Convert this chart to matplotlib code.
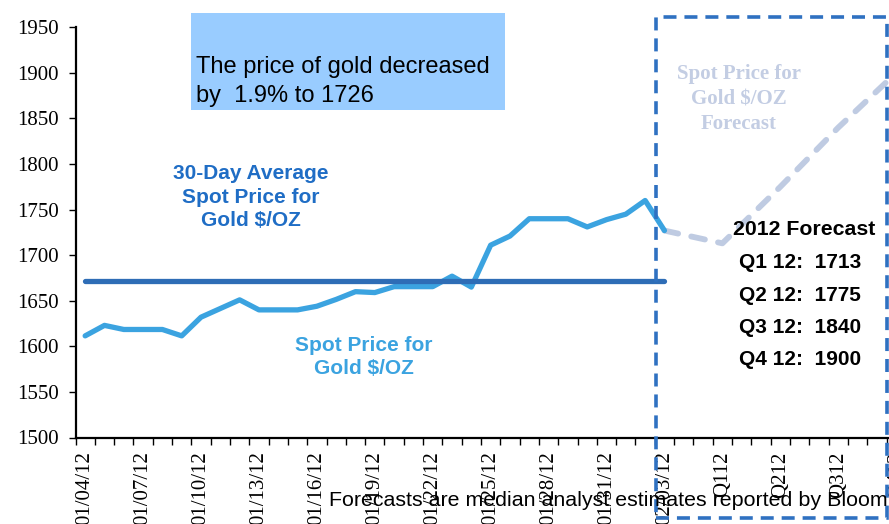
import matplotlib
matplotlib.use("Agg")
import matplotlib.pyplot as plt
from matplotlib.patches import Rectangle
import numpy as np

# canvas size in pixels
W, H = 889, 524

# daily spot price, 01/04/12 .. 02/03/12
date_labels = ['01/04/12', '01/07/12', '01/10/12', '01/13/12', '01/16/12', '01/19/12',
               '01/22/12', '01/25/12', '01/28/12', '01/31/12', '02/03/12']
spot_prices = [1611.5, 1623, 1618.5, 1618.5, 1618.5, 1611.5, 1632, 1641.5, 1651, 1640,
               1640, 1640, 1644, 1651.5, 1660, 1659, 1665.5, 1665.5, 1665.5, 1677,
               1665, 1711, 1721, 1740, 1740, 1740, 1731, 1739, 1745, 1760, 1727]
avg_30day = 1672

# quarterly forecasts
forecast_labels = ['Q1 12', 'Q2 12', 'Q3 12', 'Q4 12']
forecast_ticks = ['Q112', 'Q212', 'Q312', 'Q412']
forecast_values = [1713, 1775, 1840, 1900]

SANS = 'Liberation Sans'
SERIF = 'Liberation Serif'


def ftext(x, y, s, **kw):
    # place text using pixel coordinates measured from the top-left corner
    return fig.text(x / W, 1 - y / H, s, **kw)


fig = plt.figure(figsize=(W / 100, H / 100), dpi=100)

n_cat = 43
cat_w = 19.31
ax = fig.add_axes([75.5 / W, 86.5 / H, n_cat * cat_w / W, 410.2 / H])
ax.set_xlim(-0.5, n_cat - 0.5)
ax.set_ylim(1500, 1950)

spot_x = np.arange(len(spot_prices))
last = spot_x[-1]
fc_x = [last] + [last + 3 * (i + 1) for i in range(len(forecast_values))]
fc_y = [spot_prices[-1]] + forecast_values

ax.plot(fc_x, fc_y, color='#BFCBE2', lw=4.2, linestyle=(0, (2.4, 2.3)),
        dash_capstyle='round', zorder=2)
ax.plot(spot_x, spot_prices, color='#3BA3E0', lw=3.8, solid_joinstyle='round',
        solid_capstyle='round', zorder=3)
ax.plot([spot_x[0], last], [avg_30day, avg_30day], color='#2E6DB6', lw=3.8,
        solid_capstyle='round', zorder=4)

# axes styling
for s in ['top', 'right']:
    ax.spines[s].set_visible(False)
ax.spines['left'].set_linewidth(1.6)
ax.spines['bottom'].set_linewidth(1.6)

ax.set_yticks(np.arange(1500, 1951, 50))
ax.tick_params(axis='y', length=5, width=1, direction='out', pad=7, labelsize=15)
for lab in ax.get_yticklabels():
    lab.set_fontfamily(SERIF)

label_pos = list(range(0, last + 1, 3)) + fc_x[1:]
ax.set_xticks(label_pos)
ax.set_xticklabels(date_labels + forecast_ticks, rotation=90, fontfamily=SERIF,
                   fontsize=15, va='top', ha='center')
ax.set_xticks(np.arange(-0.5, n_cat, 1), minor=True)
ax.tick_params(axis='x', which='minor', length=5, width=1, direction='out')
ax.tick_params(axis='x', which='major', length=0, pad=10)

# info box
fig.patches.append(Rectangle((191 / W, 1 - 110 / H), (505 - 191) / W, 97 / H,
                             transform=fig.transFigure, facecolor='#99CCFF',
                             edgecolor='none', zorder=0))
ftext(196, 73, 'The price of gold decreased', fontsize=17, family=SANS, va='baseline')
ftext(196, 102, 'by  1.9% to 1726', fontsize=17, family=SANS, va='baseline')

# series labels
for i, s in enumerate(['30-Day Average', 'Spot Price for', 'Gold $/OZ']):
    ftext(251, 179 + 23.5 * i, s, fontsize=15, family=SANS, weight='bold',
          color='#1F6DC5', ha='center', va='baseline')
for i, s in enumerate(['Spot Price for', 'Gold $/OZ']):
    ftext(363.5, 351 + 23.5 * i, s, fontsize=15, family=SANS, weight='bold',
          color='#3BA3E0', ha='center', va='baseline')
for i, s in enumerate(['Spot Price for', 'Gold $/OZ', 'Forecast']):
    ftext(739, 79 + 25 * i, s, fontsize=15, family=SERIF, weight='bold',
          color='#C3CDE3', ha='center', va='baseline')

ftext(804, 235, '2012 Forecast', fontsize=15.3, family=SANS, weight='bold',
      ha='center', va='baseline')
for i, (q, v) in enumerate(zip(forecast_labels, forecast_values)):
    ftext(800, 268.3 + 32.3 * i, '%s:  %d' % (q, v), fontsize=15, family=SANS,
          weight='bold', ha='center', va='baseline')

# dashed forecast frame
fig.patches.append(Rectangle((656 / W, 1 - 518 / H), (887 - 656) / W, (518 - 17) / H,
                             transform=fig.transFigure, facecolor='none',
                             edgecolor='#2F71C1', lw=2.6, linestyle=(0, (3.6, 2.2)),
                             zorder=10))

ftext(329, 506.5, 'Forecasts are median analyst estimates reported by Bloomberg',
      fontsize=15.4, family=SANS, va='baseline', zorder=11)

fig.savefig('out.png', dpi=100)
